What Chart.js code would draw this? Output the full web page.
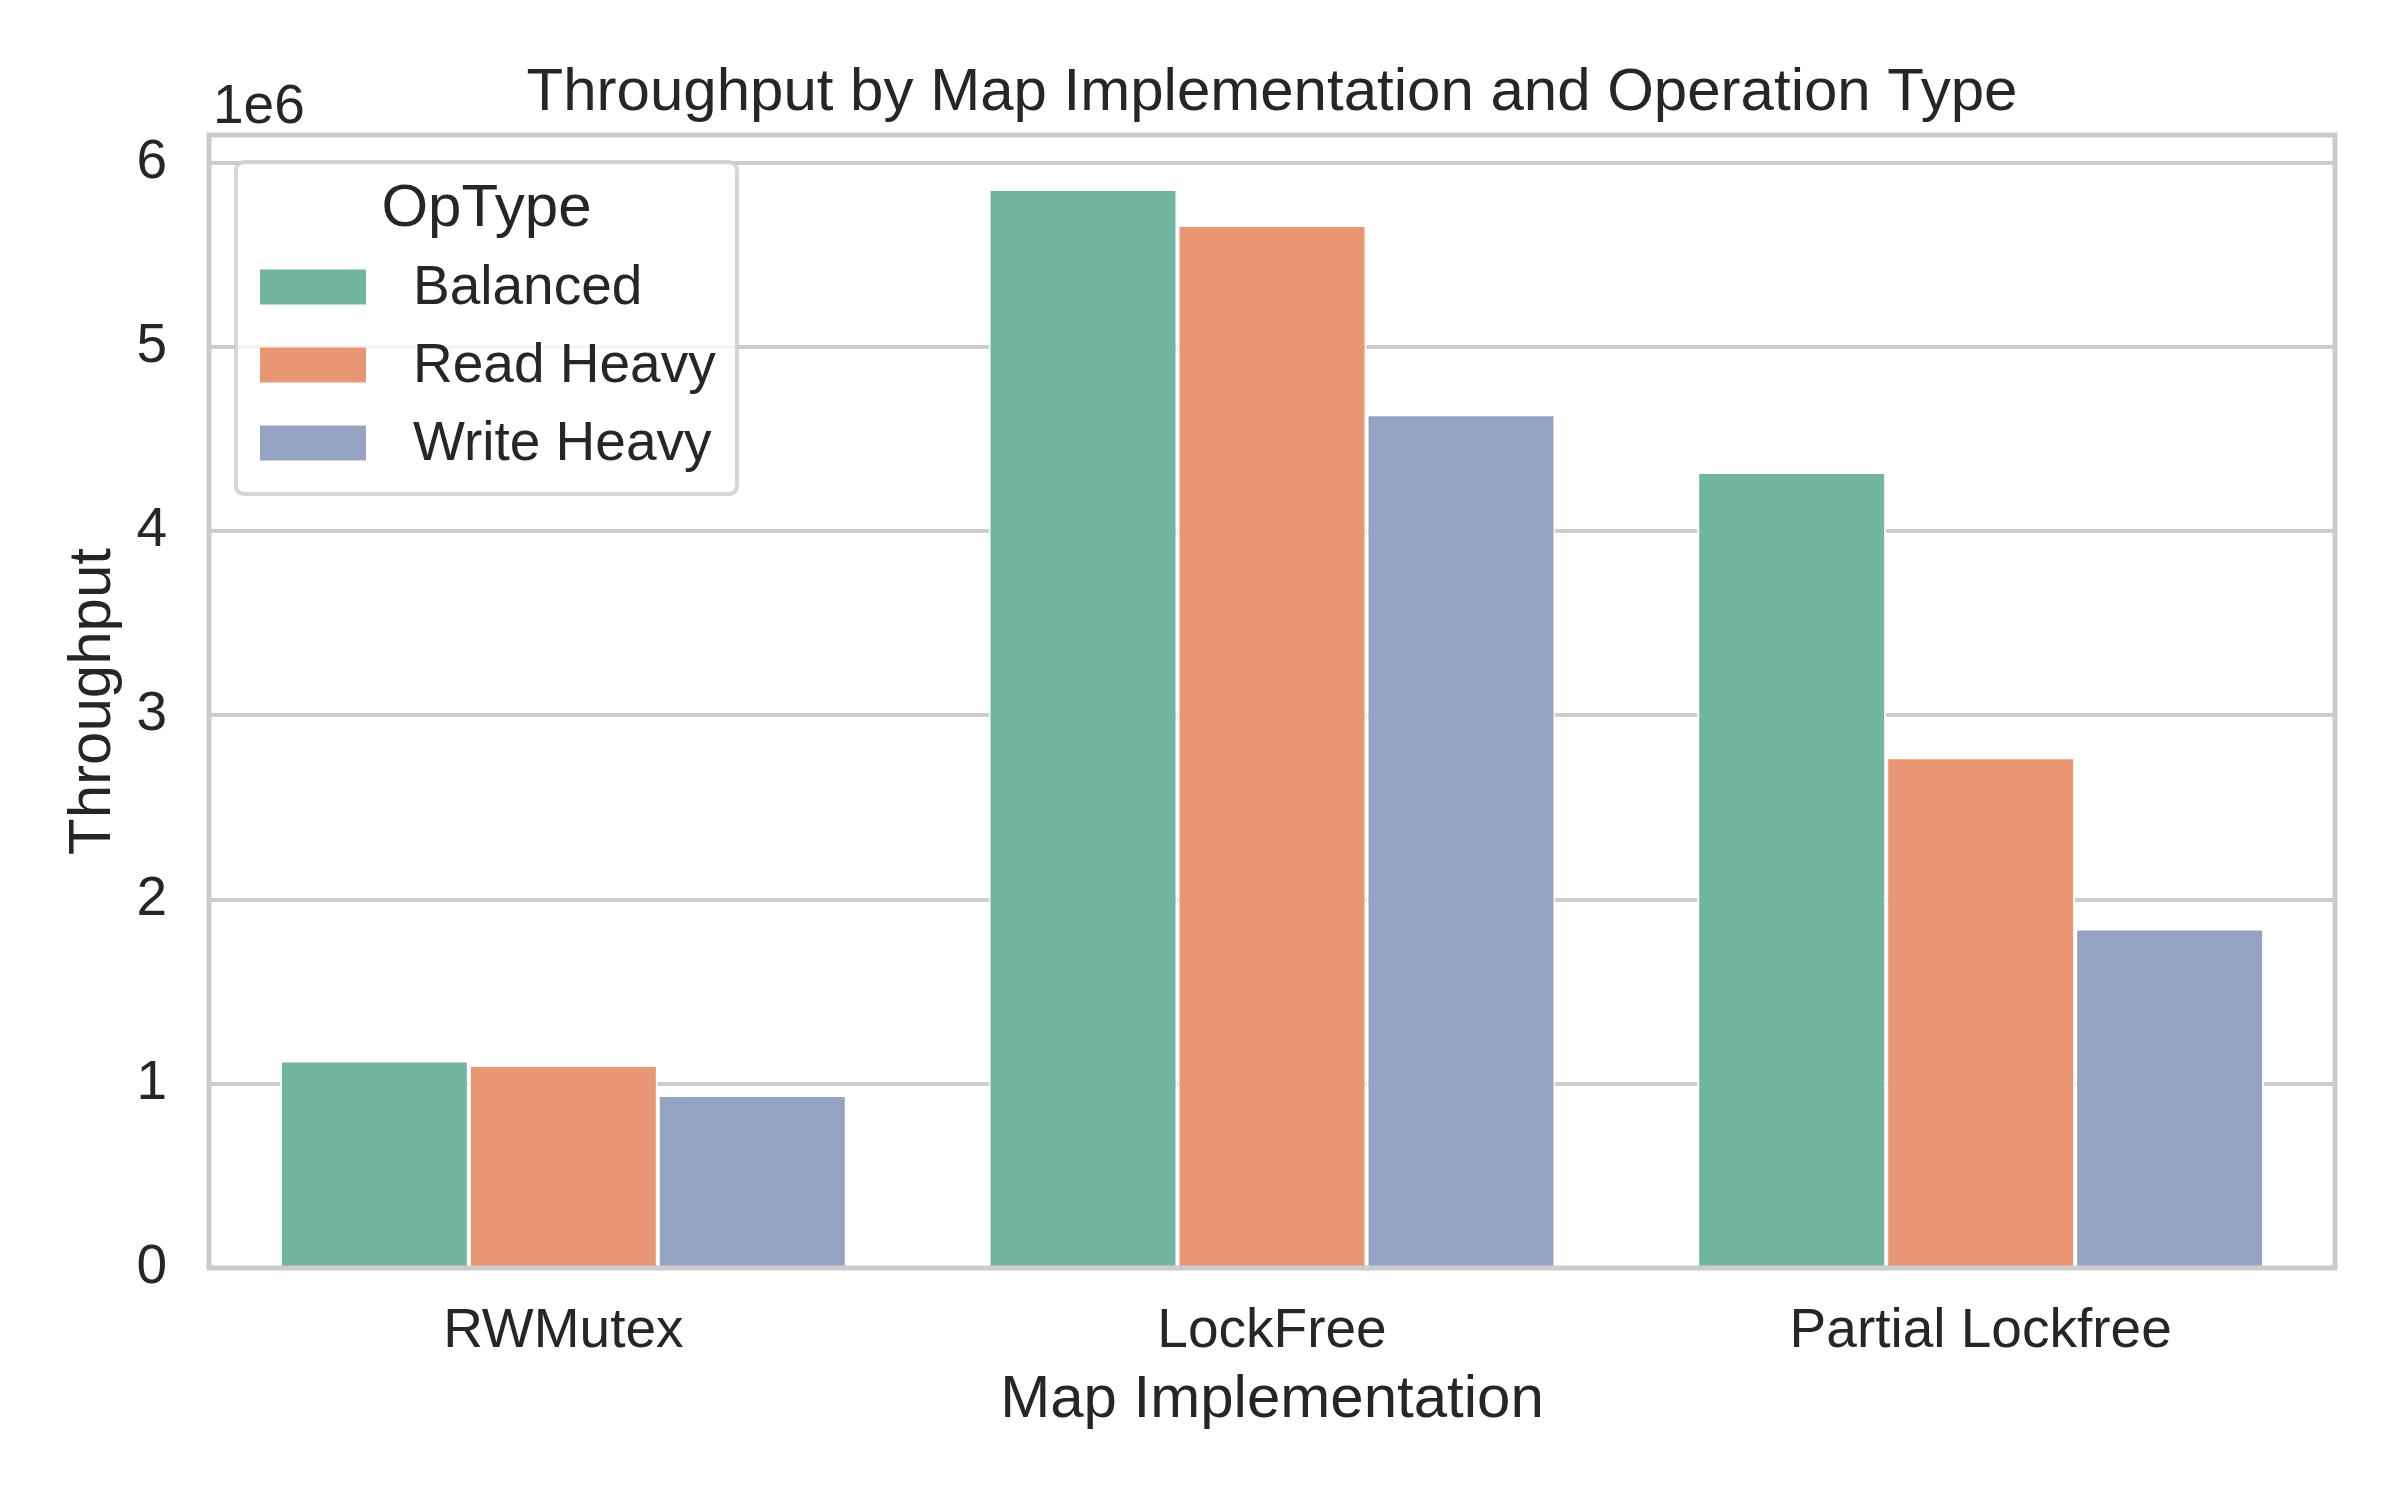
<!DOCTYPE html>
<html>
<head>
<meta charset="utf-8">
<script src="https://cdn.jsdelivr.net/npm/chart.js@4.4.1/dist/chart.umd.min.js"></script>
<style>
  html, body { margin: 0; padding: 0; background: #ffffff; }
  #wrap { width: 2400px; height: 1500px; }
</style>
</head>
<body>
<div id="wrap"><canvas id="c" width="2400" height="1500"></canvas></div>
<script>
// ---- data ----
const categories = ["RWMutex", "LockFree", "Partial Lockfree"];
const seriesNames = ["Balanced", "Read Heavy", "Write Heavy"];
const balanced   = [1126000, 5857000, 4321000];
const readHeavy  = [1102000, 5661000, 2772000];
const writeHeavy = [939000, 4634000, 1843000];
const yTicks = [0, 1000000, 2000000, 3000000, 4000000, 5000000, 6000000];
const yTickLabels = ["0", "1", "2", "3", "4", "5", "6"];
const yMax = 6150000;
const chartTitle = "Throughput by Map Implementation and Operation Type";
const xTitle = "Map Implementation";
const yTitle = "Throughput";
const legendTitle = "OpType";
const offsetText = "1e6";

const colors = ["#72b6a1", "#e99675", "#95a3c3"];
const FONT = "'Liberation Sans', Arial, Helvetica, sans-serif";
const TXT = "#262626";

const seriesValues = [balanced, readHeavy, writeHeavy];

const decor = {
  id: "decor",
  afterDatasetsDraw(chart) {
    const ctx = chart.ctx, a = chart.chartArea;
    ctx.save();
    ctx.strokeStyle = "#cccccc";
    ctx.lineWidth = 5;
    ctx.strokeRect(a.left, a.top, a.right - a.left, a.bottom - a.top);
    ctx.restore();
  },
  afterDraw(chart) {
    const ctx = chart.ctx, a = chart.chartArea;
    const cx = (a.left + a.right) / 2;
    const cy = (a.top + a.bottom) / 2;
    ctx.save();
    ctx.fillStyle = TXT;
    // title
    ctx.font = "60px " + FONT;
    ctx.textAlign = "center";
    ctx.textBaseline = "alphabetic";
    ctx.fillText(chartTitle, cx, 110);
    // x title
    ctx.fillText(xTitle, cx, 1417);
    // y title
    ctx.save();
    ctx.translate(110, cy);
    ctx.rotate(-Math.PI / 2);
    ctx.fillText(yTitle, 0, 0);
    ctx.restore();
    // offset text
    ctx.font = "55px " + FONT;
    ctx.textAlign = "left";
    ctx.fillText(offsetText, 213, 123);

    // legend
    const bx = 236, by = 162, bw = 501, bh = 332, r = 9;
    ctx.beginPath();
    ctx.moveTo(bx + r, by);
    ctx.lineTo(bx + bw - r, by);
    ctx.quadraticCurveTo(bx + bw, by, bx + bw, by + r);
    ctx.lineTo(bx + bw, by + bh - r);
    ctx.quadraticCurveTo(bx + bw, by + bh, bx + bw - r, by + bh);
    ctx.lineTo(bx + r, by + bh);
    ctx.quadraticCurveTo(bx, by + bh, bx, by + bh - r);
    ctx.lineTo(bx, by + r);
    ctx.quadraticCurveTo(bx, by, bx + r, by);
    ctx.closePath();
    ctx.fillStyle = "rgba(255,255,255,0.8)";
    ctx.fill();
    ctx.strokeStyle = "rgba(204,204,204,0.8)";
    ctx.lineWidth = 4;
    ctx.stroke();

    ctx.fillStyle = TXT;
    ctx.font = "60px " + FONT;
    ctx.textAlign = "center";
    ctx.textBaseline = "alphabetic";
    ctx.fillText(legendTitle, bx + bw / 2, 226);

    const rows = [287, 365, 443];
    ctx.font = "55px " + FONT;
    ctx.textAlign = "left";
    ctx.textBaseline = "middle";
    chart.data.datasets.forEach((ds, i) => {
      ctx.fillStyle = ds.backgroundColor;
      ctx.fillRect(260, rows[i] - 17.5, 106, 35);
      ctx.fillStyle = TXT;
      ctx.fillText(ds.label, 413, rows[i] + 2);
    });
    ctx.restore();
  }
};

new Chart(document.getElementById("c"), {
  type: "bar",
  data: {
    labels: categories,
    datasets: seriesNames.map((name, i) => ({
      label: name,
      data: seriesValues[i],
      backgroundColor: colors[i],
      borderColor: "#ffffff",
      borderWidth: 2,
      categoryPercentage: 0.8,
      barPercentage: 1.0
    }))
  },
  options: {
    responsive: false,
    animation: false,
    devicePixelRatio: 1,
    layout: { padding: { top: 135, right: 65, left: 0, bottom: 0 } },
    plugins: {
      legend: { display: false },
      title: { display: false },
      tooltip: { enabled: false }
    },
    scales: {
      x: {
        grid: { display: false, drawTicks: false },
        border: { display: false },
        ticks: {
          color: TXT,
          font: { family: FONT, size: 55 },
          padding: 31,
          maxRotation: 0
        },
        afterFit(s) { s.height = 232; }
      },
      y: {
        min: 0,
        max: yMax,
        grid: { color: "#cccccc", lineWidth: 4, drawTicks: false },
        border: { display: false },
        ticks: {
          color: TXT,
          font: { family: FONT, size: 55 },
          padding: 42,
          callback(v) {
            const k = yTicks.indexOf(v);
            return k >= 0 ? yTickLabels[k] : "";
          }
        },
        afterBuildTicks(s) { s.ticks = yTicks.map(v => ({ value: v })); },
        afterFit(s) { s.width = 209; }
      }
    }
  },
  plugins: [decor]
});
</script>
</body>
</html>
